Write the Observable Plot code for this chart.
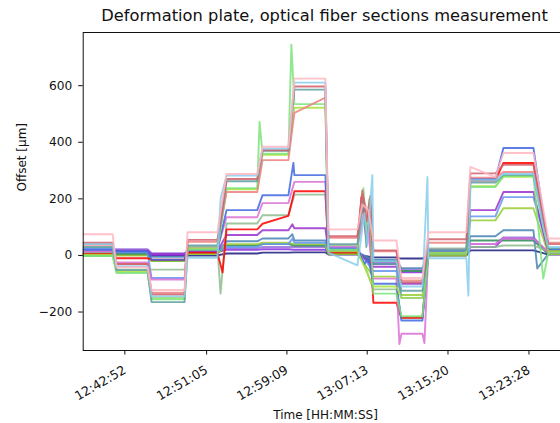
<!DOCTYPE html>
<html>
<head>
<meta charset="utf-8">
<script src="https://cdn.jsdelivr.net/npm/d3@7"></script>
<script src="https://cdn.jsdelivr.net/npm/@observablehq/plot@0.6"></script>
<style>
  body { margin: 0; background: #fff; }
  svg { display: block; }
</style>
</head>
<body>
<div id="chart"></div>
<script>
// ---- texts ----
const title = "Deformation plate, optical fiber sections measurement";
const xLabel = "Time [HH:MM:SS]";
const yLabel = "Offset [µm]";
const tickLabels = ["12:42:52", "12:51:05", "12:59:09", "13:07:13", "13:15:20", "13:23:28"];
const yTicks = [-200, 0, 200, 400, 600];

// ---- load stages: start / end time, seconds since 12:42:52 ----
const stageStart = [-251, -50, 161, 378, 613, 830, 1022, 1227, 1498, 1667, 1830, 2083, 2282, 2553];
const stageEnd   = [-74, 137, 360, 558, 798, 986, 1209, 1402, 1637, 1794, 2059, 2234, 2463, 2640];

// ---- series: offset [µm] per stage (A..N); a pair = value at stage start / end ----
const seriesNames  = ["navy", "blueviolet", "mediumpurple", "seagreen", "steelblue", "yellowgreen",
  "cornflowerblue", "darkorchid", "darkseagreen", "red", "orchid", "royalblue", "greenyellow",
  "lightgreen", "lightcoral", "cadetblue", "indianred", "skyblue", "pink"];
const seriesColors = ["#1a1a80", "#8a2be2", "#9370db", "#2e8b57", "#4682b4", "#9acd32",
  "#6495ed", "#9932cc", "#8fbc8f", "#ff0000", "#da70d6", "#4169e1", "#a6e33c",
  "#7be37b", "#f08080", "#5f9ea0", "#d0606a", "#87ceeb", "#ffb6c1"];

const navy           = [0, 2, 0, 0, 7, 10, 11, 3, -7, -11, 0, 18, 18, 3];
const blueviolet     = [10, 15, 2, 12, 20, 22, 20, 10, -30, -60, 5, 30, 60, 10];
const mediumpurple   = [20, 22, 8, 18, 25, 30, 30, 15, -25, -50, 8, 40, 64, 8];
const seagreen       = [5, 5, -20, 8, 35, 40, 35, 8, -20, -55, 5, 53, 53, 5];
const steelblue      = [8, 10, -5, 10, 50, 60, 53, 10, -15, -45, 10, 68, 89, 5];
const yellowgreen    = [0, 0, -20, 5, 40, 45, 40, 5, -75, -140, 0, 124, 167, 5];
const cornflowerblue = [25, 12, -80, 15, 30, 40, 45, 20, -55, -150, 10, 138, 206, 20];
const darkorchid     = [12, 18, 5, 15, 72, 89, 96, 15, -40, -100, 5, 160, 224, 10];
const darkseagreen   = [10, -50, -50, 30, 113, 142, 215, 35, -120, -220, 25, 30, 35, 15];
const red            = [5, -10, -15, 10, 92, [112, 140], 227, 10, -167, -220, 5, 265, 327, 15];
const orchid         = [15, -25, -85, 25, 135, 185, 260, 30, -82, -277, 20, 40, 60, 10];
const royalblue      = [20, 15, -15, 20, 160, 213, 284, 25, -100, -230, 15, 270, 380, 20];
const greenyellow    = [3, -58, -150, 25, 234, 356, 522, 15, -110, -150, 10, 245, 278, 15];
const lightgreen     = [-2, -62, -155, 20, 238, 360, 535, 20, -135, -215, 5, 242, 281, 10];
const lightcoral     = [38, -30, -132, 48, 224, 337, [504, 558], 62, 15, -88, 45, 275, 295, 45];
const cadetblue      = [30, -52, -165, 35, 262, 370, 586, 40, -30, -125, 20, 258, 285, 25];
const indianred      = [45, -30, -138, 55, 270, 372, 597, 68, 18, -95, 57, 290, 320, 40];
const skyblue        = [40, -38, -145, -8, 282, 378, 611, [10, -35], -20, -110, -10, 266, 288, 30];
const pink           = [75, -42, -122, 82, 288, 384, 625, 92, 53, -80, 82, [313, 277], 362, 60];

const seriesLevels = [navy, blueviolet, mediumpurple, seagreen, steelblue, yellowgreen,
  cornflowerblue, darkorchid, darkseagreen, red, orchid, royalblue, greenyellow,
  lightgreen, lightcoral, cadetblue, indianred, skyblue, pink];

// ---- transients between stages: [series, seconds since 12:42:52, offset µm] ----
const spikes = [
  ["skyblue", 577, 200], ["darkseagreen", 577, -135], ["red", 589, -60],
  ["lightgreen", 812, 472],
  ["lightgreen", 1004, 745], ["royalblue", 1016, 327], ["darkorchid", 1010, 110],
  ["steelblue", 1010, 75], ["cornflowerblue", 1010, 60],
  ["pink", 1432, 180], ["pink", 1468, 160],
  ["indianred", 1432, 230], ["indianred", 1456, 120], ["indianred", 1480, 210],
  ["lightgreen", 1438, 238], ["lightgreen", 1456, 90], ["lightgreen", 1474, 200],
  ["red", 1426, 206], ["red", 1456, 60], ["red", 1474, 120],
  ["lightcoral", 1432, 215], ["lightcoral", 1462, 150],
  ["cadetblue", 1438, 200], ["cadetblue", 1456, 30], ["cadetblue", 1480, 180],
  ["skyblue", 1444, 150], ["skyblue", 1462, 40], ["skyblue", 1492, 284],
  ["royalblue", 1444, -30], ["royalblue", 1468, -10],
  ["orchid", 1438, 140], ["orchid", 1468, 80],
  ["orchid", 1655, -313], ["orchid", 1806, -310],
  ["skyblue", 1824, 277],
  ["skyblue", 2071, -142],
  ["steelblue", 2486, -46], ["skyblue", 2522, 99], ["lightgreen", 2522, -82]
];

// ---- build long table ----
const base = 12 * 3600 + 42 * 60 + 52;
const tickTimes = tickLabels.map(s => {
  const [h, m, sec] = s.split(":").map(Number);
  return h * 3600 + m * 60 + sec - base;
});

const rows = [];
seriesNames.forEach((name, k) => {
  const pts = [];
  seriesLevels[k].forEach((v, i) => {
    const [a, b] = Array.isArray(v) ? v : [v, v];
    pts.push({t: stageStart[i], v: a}, {t: stageEnd[i], v: b});
  });
  spikes.filter(s => s[0] === name).forEach(s => pts.push({t: s[1], v: s[2]}));
  pts.sort((p, q) => p.t - q.t);
  pts.forEach(p => rows.push({name, t: p.t, v: p.v}));
});

const chart = Plot.plot({
  width: 560,
  height: 423,
  marginTop: 32,
  marginBottom: 73,
  marginLeft: 82.7,
  marginRight: -1.3,
  style: {fontFamily: "'DejaVu Sans', sans-serif", fontSize: "12px", color: "#111", background: "#fff", overflow: "hidden"},
  x: {domain: [-251, 2634]},
  y: {domain: [-336, 788]},
  color: {domain: seriesNames, range: seriesColors},
  marks: [
    Plot.line(rows, {x: "t", y: "v", z: "name", stroke: "name", strokeWidth: 1.9, strokeOpacity: 0.85, clip: true}),
    Plot.frame({stroke: "#111", strokeWidth: 1}),
    Plot.axisY({ticks: yTicks, tickSize: 4.5, tickPadding: 6.5, fontSize: 12.2, label: null}),
    Plot.axisX({ticks: tickTimes, tickFormat: d => tickLabels[tickTimes.indexOf(d)], tickRotate: -30, tickSize: 4.5, tickPadding: 14, fontSize: 12.6, label: null}),
    Plot.text([title], {text: d => d, frameAnchor: "top", dx: 2, dy: -11.3, lineAnchor: "bottom", fontSize: 16.3}),
    Plot.text([xLabel], {text: d => d, frameAnchor: "bottom", dx: 3, dy: 68, lineAnchor: "bottom", fontSize: 12}),
    Plot.text([yLabel], {text: d => d, frameAnchor: "left", dx: -61, rotate: -90, fontSize: 12})
  ]
});
document.getElementById("chart").appendChild(chart);
</script>
</body>
</html>
